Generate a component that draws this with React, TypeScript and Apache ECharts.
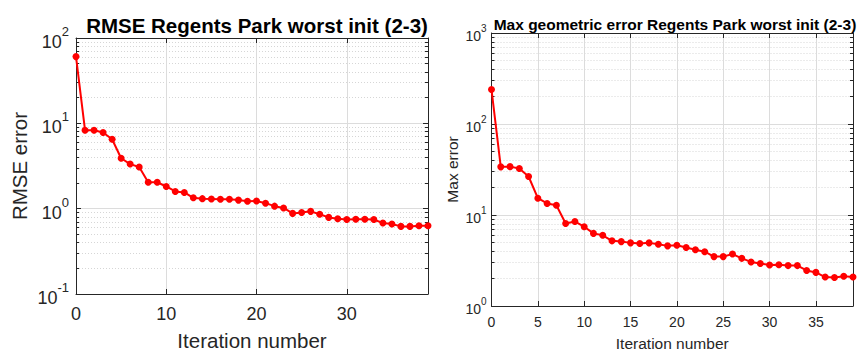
import React, { useEffect, useRef } from "react";
import * as echarts from "echarts";

const iterations: number[] = Array.from({ length: 40 }, (_, i) => i);

const rmseValues: number[] = [
  60.5, 8.3, 8.3, 7.8, 6.5, 3.9, 3.33, 3.08, 2.04, 2.04,
  1.82, 1.59, 1.55, 1.34, 1.31, 1.3, 1.29, 1.29, 1.26, 1.22,
  1.23, 1.16, 1.07, 1.02, 0.88, 0.9, 0.93, 0.86, 0.79, 0.76,
  0.745, 0.75, 0.75, 0.745, 0.68, 0.66, 0.62, 0.62, 0.63, 0.63,
];

const maxErrValues: number[] = [
  239, 33.8, 34, 32.4, 26.5, 15.3, 13.4, 12.8, 8.07, 8.48,
  7.43, 6.28, 5.98, 5.2, 5.1, 4.94, 4.86, 4.94, 4.77, 4.58,
  4.65, 4.4, 4.15, 3.95, 3.49, 3.49, 3.72, 3.34, 3.05, 2.93,
  2.82, 2.84, 2.78, 2.78, 2.46, 2.34, 2.08, 2.06, 2.12, 2.08,
];

const leftTitle = "RMSE Regents Park worst init (2-3)";
const rightTitle = "Max geometric error Regents Park worst init (2-3)";
const xName = "Iteration number";
const leftYName = "RMSE error";
const rightYName = "Max error";

const FONT = "'Liberation Sans', Arial, Helvetica, sans-serif";
const AX = "#262626";
const GRID = "#dcdcdc";
const MINOR = "#d6d6d6";

function logLabel(fs: number, sfs: number, lh: number) {
  return {
    formatter: (v: number) => {
      const e = Math.round(Math.log10(v));
      return `{b|10}{e|${e}}`;
    },
    rich: {
      b: { fontSize: fs, fontFamily: FONT, color: AX, verticalAlign: "bottom", lineHeight: lh },
      e: { fontSize: sfs, fontFamily: FONT, color: AX, verticalAlign: "top", lineHeight: lh },
    },
  };
}

export default function App() {
  const ref = useRef<HTMLDivElement>(null);
  useEffect(() => {
    if (!ref.current) return;
    const chart = echarts.init(ref.current, null, { renderer: "svg" });
    const data1 = iterations.map((x, i) => [x, rmseValues[i]]);
    const data2 = iterations.map((x, i) => [x, maxErrValues[i]]);

    const xCommon = (gridIndex: number, interval: number, fs: number, margin: number, nameFs: number, nameGap: number) => ({
      type: "value",
      gridIndex,
      min: 0,
      max: 39,
      interval,
      name: xName,
      nameLocation: "middle",
      nameGap,
      nameTextStyle: { fontSize: nameFs, fontFamily: FONT, color: AX },
      axisLine: { show: true, onZero: false, lineStyle: { color: AX, width: 1 } },
      axisTick: { show: true, inside: true, length: 5, lineStyle: { color: AX } },
      axisLabel: { fontSize: fs, fontFamily: FONT, color: AX, margin, showMaxLabel: false },
      splitLine: { show: true, lineStyle: { color: GRID, width: 1 } },
    });
    const xTop = (gridIndex: number, interval: number) => ({
      type: "value",
      gridIndex,
      position: "top",
      min: 0,
      max: 39,
      interval,
      axisLine: { show: true, onZero: false, lineStyle: { color: AX, width: 1 } },
      axisTick: { show: true, inside: true, length: 5, lineStyle: { color: AX } },
      axisLabel: { show: false },
      splitLine: { show: false },
    });
    const yMain = (gridIndex: number, min: number, max: number, fs: number, sfs: number, lh: number, margin: number, nameFs: number, nameGap: number, name: string) => ({
      type: "log",
      logBase: 10,
      gridIndex,
      min,
      max,
      name,
      nameLocation: "middle",
      nameGap,
      nameRotate: 90,
      nameTextStyle: { fontSize: nameFs, fontFamily: FONT, color: AX },
      axisLine: { show: true, onZero: false, lineStyle: { color: AX, width: 1 } },
      axisTick: { show: true, inside: true, length: 5, lineStyle: { color: AX } },
      minorTick: { show: true, splitNumber: 9, length: 3, lineStyle: { color: AX } },
      axisLabel: { margin, ...logLabel(fs, sfs, lh) },
      splitLine: { show: true, lineStyle: { color: GRID, width: 1 } },
      minorSplitLine: { show: true, lineStyle: { color: MINOR, width: 1, type: [1, 2] } },
    });
    const yRight = (gridIndex: number, min: number, max: number) => ({
      type: "log",
      logBase: 10,
      gridIndex,
      position: "right",
      min,
      max,
      axisLine: { show: true, onZero: false, lineStyle: { color: AX, width: 1 } },
      axisTick: { show: true, inside: true, length: 5, lineStyle: { color: AX } },
      minorTick: { show: true, splitNumber: 9, length: 3, lineStyle: { color: AX } },
      axisLabel: { show: false },
      splitLine: { show: false },
    });

    chart.setOption({
      animation: false,
      backgroundColor: "#ffffff",
      title: [
        {
          text: leftTitle,
          left: 252,
          top: 10,
          textAlign: "center",
          textStyle: { fontSize: 20.5, fontWeight: "bold", fontFamily: FONT, color: "#000" },
        },
        {
          text: rightTitle,
          left: 670,
          top: 11,
          textAlign: "center",
          textStyle: { fontSize: 15.5, fontWeight: "bold", fontFamily: FONT, color: "#000" },
        },
      ],
      grid: [
        { left: 76, right: 431, top: 38, bottom: 59 },
        { left: 491.5, right: 6, top: 33, bottom: 47 },
      ],
      xAxis: [
        xCommon(0, 10, 18, 11, 20.5, 36),
        xTop(0, 10),
        xCommon(1, 5, 14, 9, 15.5, 29),
        xTop(1, 5),
      ],
      yAxis: [
        yMain(0, 0.1, 100, 18, 13, 26, 7, 20.5, 46, leftYName),
        yRight(0, 0.1, 100),
        yMain(1, 1, 1000, 14, 10, 20, 5, 15.5, 31, rightYName),
        yRight(1, 1, 1000),
      ],
      series: [
        {
          type: "line",
          xAxisIndex: 0,
          yAxisIndex: 0,
          data: data1,
          symbol: "circle",
          symbolSize: 7,
          itemStyle: { color: "#ff0000" },
          lineStyle: { color: "#ff0000", width: 2 },
        },
        {
          type: "line",
          xAxisIndex: 2,
          yAxisIndex: 2,
          data: data2,
          symbol: "circle",
          symbolSize: 7,
          itemStyle: { color: "#ff0000" },
          lineStyle: { color: "#ff0000", width: 2 },
        },
      ],
    });
    return () => chart.dispose();
  }, []);
  return (
    <div
      ref={ref}
      style={{ position: "fixed", left: 0, top: 0, width: 859, height: 356, background: "#fff" }}
    />
  );
}
